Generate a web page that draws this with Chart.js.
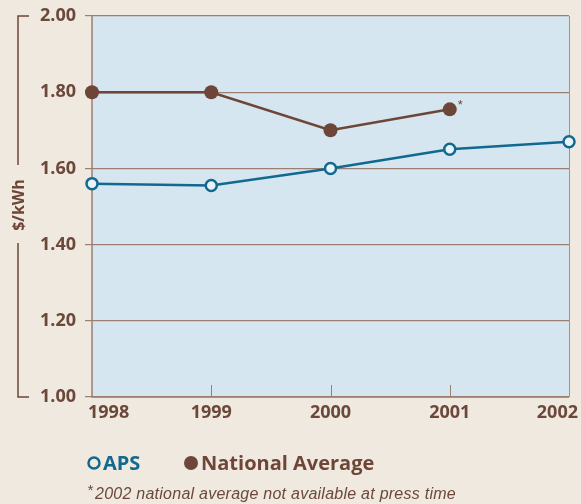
<!DOCTYPE html>
<html>
<head>
<meta charset="utf-8">
<script src="https://cdn.jsdelivr.net/npm/chart.js@4"></script>
<style>
  html, body { margin: 0; padding: 0; background: #efe9e0; }
  #wrap { width: 581px; height: 504px; position: relative; }
</style>
</head>
<body>
<div id="wrap"><canvas id="chart" width="581" height="504"></canvas></div>
<script>
const years = ["1998", "1999", "2000", "2001", "2002"];
const apsValues = [1.56, 1.555, 1.60, 1.65, 1.67];
const nationalValues = [1.80, 1.80, 1.70, 1.755, null];
const yTicks = [1.00, 1.20, 1.40, 1.60, 1.80, 2.00];

const brown = "#6d4637";
const gridBrown = "#9c7f70";
const blue = "#11698f";
const labelBrown = "#6b4839";

const decor = {
  id: "decor",
  beforeDatasetsDraw(chart) {
    const { ctx, chartArea: a, scales } = chart;
    ctx.save();
    // short category ticks going up from the bottom
    ctx.strokeStyle = gridBrown;
    ctx.lineWidth = 1;
    years.forEach((y, i) => {
      if (i === 0 || i === years.length - 1) return;
      const x = Math.round(scales.x.getPixelForValue(i)) + 0.5;
      ctx.beginPath();
      ctx.moveTo(x, a.bottom);
      ctx.lineTo(x, a.bottom - 12);
      ctx.stroke();
    });
    // frame
    ctx.strokeStyle = "#a39185";
    ctx.beginPath();
    ctx.moveTo(a.right + 0.5, a.top);
    ctx.lineTo(a.right + 0.5, a.bottom);
    ctx.stroke();
    ctx.strokeStyle = gridBrown;
    ctx.lineWidth = 1.5;
    ctx.beginPath();
    ctx.moveTo(a.left, a.top);
    ctx.lineTo(a.left, a.bottom);
    ctx.lineTo(a.right, a.bottom);
    ctx.stroke();
    ctx.restore();
  },
  beforeDraw(chart) {
    const { ctx, chartArea: a } = chart;
    ctx.save();
    ctx.fillStyle = "#d5e6f0";
    ctx.fillRect(a.left, a.top, a.right - a.left, a.bottom - a.top);
    ctx.restore();
  },
  afterDraw(chart) {
    const { ctx, chartArea: a, scales } = chart;
    ctx.save();

    // x labels, kept inside the canvas
    ctx.font = "bold 18px 'Open Sans'";
    ctx.fillStyle = labelBrown;
    ctx.textBaseline = "middle";
    ctx.textAlign = "center";
    years.forEach((y, i) => {
      const w = ctx.measureText(y).width;
      let x = scales.x.getPixelForValue(i);
      x = Math.max(x, a.left - 4 + w / 2);
      x = Math.min(x, chart.width - 3 - w / 2);
      ctx.fillText(y, x, 413);
    });

    // y title with bracket
    const midY = 205;
    ctx.strokeStyle = brown;
    ctx.lineWidth = 1.5;
    ctx.beginPath();
    ctx.moveTo(29, a.top);
    ctx.lineTo(18, a.top);
    ctx.lineTo(18, 165);
    ctx.moveTo(18, 243);
    ctx.lineTo(18, a.bottom);
    ctx.lineTo(29, a.bottom);
    ctx.stroke();
    ctx.translate(18, midY);
    ctx.rotate(-Math.PI / 2);
    ctx.font = "bold 16px 'Open Sans'";
    ctx.textAlign = "center";
    ctx.fillStyle = brown;
    ctx.fillText("$/kWh", 0, 1);
    ctx.setTransform(1, 0, 0, 1, 0, 0);

    // asterisk on the last national point
    const last = nationalValues.filter(v => v !== null).length - 1;
    const px = scales.x.getPixelForValue(last);
    const py = scales.y.getPixelForValue(nationalValues[last]);
    ctx.font = "13px 'Liberation Sans'";
    ctx.textAlign = "left";
    ctx.fillStyle = brown;
    ctx.fillText("*", px + 8, py - 4);

    // legend
    const ly = 463;
    ctx.lineWidth = 2.5;
    ctx.strokeStyle = blue;
    ctx.beginPath();
    ctx.arc(94, ly, 5.5, 0, Math.PI * 2);
    ctx.stroke();
    ctx.font = "bold 20px 'Open Sans'";
    ctx.fillStyle = blue;
    ctx.textBaseline = "middle";
    ctx.fillText("APS", 103, ly + 1);
    ctx.fillStyle = brown;
    ctx.beginPath();
    ctx.arc(191, ly, 7, 0, Math.PI * 2);
    ctx.fill();
    ctx.fillText("National Average", 201, ly + 1);

    // footnote
    ctx.font = "italic 15px 'Liberation Sans'";
    ctx.textBaseline = "alphabetic";
    ctx.fillStyle = labelBrown;
    ctx.fillText("*", 87, 495);
    ctx.font = "italic 16px 'Liberation Sans'";
    ctx.letterSpacing = "0.25px";
    ctx.fillText("2002 national average not available at press time", 95, 499);
    ctx.restore();
  }
};

new Chart(document.getElementById("chart"), {
  type: "line",
  data: {
    labels: years,
    datasets: [
      {
        label: "National Average",
        data: nationalValues,
        borderColor: brown,
        backgroundColor: brown,
        borderWidth: 2.5,
        pointRadius: 7,
        pointBorderWidth: 0,
        pointBackgroundColor: brown,
        tension: 0,
      },
      {
        label: "APS",
        data: apsValues,
        borderColor: blue,
        backgroundColor: blue,
        borderWidth: 2.5,
        pointRadius: 5.5,
        pointBorderWidth: 2.5,
        pointBackgroundColor: "#eaf3f8",
        pointBorderColor: blue,
        tension: 0,
      },
    ],
  },
  options: {
    responsive: false,
    animation: false,
    layout: { padding: { top: 16, right: 12, left: 0, bottom: 0 } },
    plugins: { legend: { display: false }, tooltip: { enabled: false } },
    scales: {
      x: {
        offset: false,
        grid: { display: false },
        border: { display: false },
        ticks: { display: false },
        afterFit(scale) { scale.height = 107; },
      },
      y: {
        min: 1.0,
        max: 2.0,
        afterBuildTicks(scale) { scale.ticks = yTicks.map(v => ({ value: v })); },
        afterFit(scale) {
          scale.width = 92;
          scale.paddingTop = 0;
          scale.paddingBottom = 0;
        },
        border: { display: false },
        grid: { color: gridBrown, lineWidth: 1.2, tickLength: 7, drawTicks: true },
        ticks: {
          padding: 9,
          color: labelBrown,
          font: { family: "'Open Sans'", size: 18, weight: "bold" },
          callback: v => v.toFixed(2),
        },
      },
    },
  },
  plugins: [decor],
});
</script>
</body>
</html>
